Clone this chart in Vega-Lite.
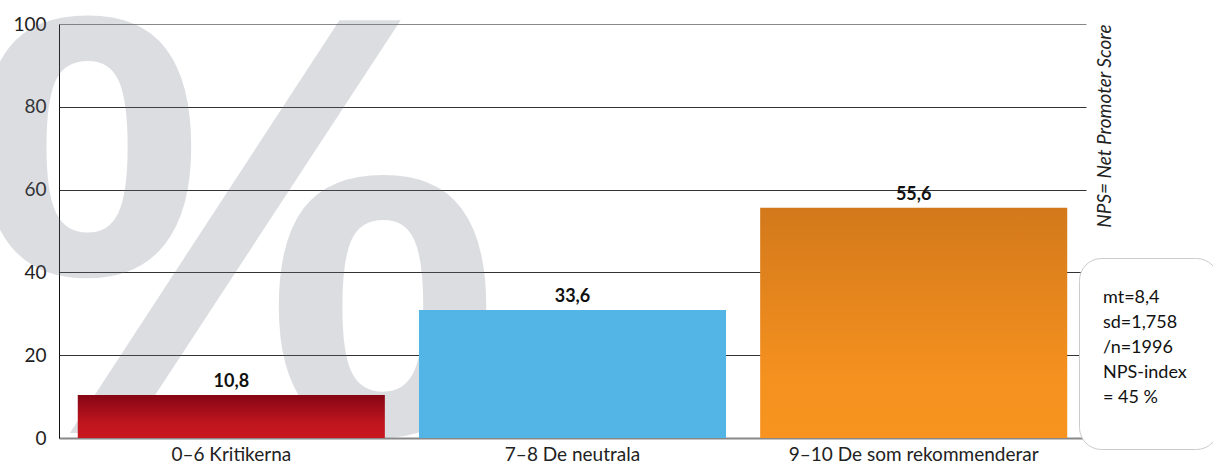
{
  "$schema": "https://vega.github.io/schema/vega-lite/v6.json",
  "width": 1027,
  "height": 414,
  "autosize": {"type": "none"},
  "padding": {"left": 59, "top": 24, "right": 127, "bottom": 30},
  "background": "white",
  "config": {
    "view": {"stroke": null},
    "font": "Lato",
    "axis": {"labelFont": "Lato", "titleFont": "Lato"}
  },
  "datasets": {
    "bars": [
      {"cat": "0–6 Kritikerna", "value": 10.4, "label": "10,8"},
      {"cat": "7–8 De neutrala", "value": 30.9, "label": "33,6"},
      {"cat": "9–10 De som rekommenderar", "value": 55.6, "label": "55,6"}
    ],
    "stats": [
      {"stat": "mt=8,4"},
      {"stat": "sd=1,758"},
      {"stat": "/n=1996"},
      {"stat": "NPS-index"},
      {"stat": "= 45 %"}
    ],
    "bg": [{"sym": "%"}]
  },
  "resolve": {"scale": {"y": "independent"}},
  "layer": [
    {
      "data": {"name": "bg"},
      "mark": {
        "type": "text",
        "font": "Liberation Sans Narrow, Liberation Sans",
        "fontWeight": "bold",
        "fontSize": 600,
        "align": "center",
        "baseline": "alphabetic",
        "fill": "#6b7080",
        "fillOpacity": 0.24,
        "dx": 4,
        "dy": -5
      },
      "encoding": {
        "text": {"field": "sym"},
        "x": {
          "datum": "0–6 Kritikerna",
          "type": "nominal",
          "scale": {"paddingInner": 0.1, "paddingOuter": 0.055},
          "sort": null,
          "axis": {
            "title": null,
            "ticks": false,
            "labelFontSize": 19,
            "labelColor": "#222",
            "labelPadding": 7,
            "labelAngle": 0,
            "labelLimit": 400,
            "domainColor": "#888",
            "domainWidth": 2,
            "grid": false
          }
        },
        "y": {
          "datum": 0,
          "type": "quantitative",
          "scale": {"domain": [0, 100]},
          "axis": {
            "orient": "right",
            "title": "NPS= Net Promoter Score",
            "labels": false,
            "ticks": false,
            "domain": false,
            "grid": false,
            "titleFontStyle": "italic",
            "titleFontWeight": "normal",
            "titleFontSize": 19,
            "titleColor": "#222",
            "titleAngle": 270,
            "titleAnchor": "end",
            "titlePadding": 28
          }
        }
      }
    },
    {
      "data": {"name": "bars"},
      "layer": [
        {
          "mark": {"type": "bar"},
          "encoding": {
            "x": {"field": "cat", "type": "nominal", "sort": null},
            "y": {
              "field": "value",
              "type": "quantitative",
              "scale": {"domain": [0, 100]},
              "axis": {
                "title": null,
                "values": [0, 20, 40, 60, 80, 100],
                "ticks": false,
                "labelFontSize": 19,
                "labelColor": "#222",
                "labelPadding": 13,
                "domain": true,
                "domainColor": "#111",
                "domainWidth": 1,
                "grid": true,
                "gridColor": {"condition": {"test": "datum.value === 100 || datum.value === 0", "value": "#888"}, "value": "#333"},
                "gridWidth": 1
              }
            },
            "color": {
              "condition": [
                {
                  "test": "datum.cat === '0–6 Kritikerna'",
                  "value": {
                    "gradient": "linear", "x1": 0, "y1": 0, "x2": 0, "y2": 1,
                    "stops": [
                      {"offset": 0, "color": "#850514"},
                      {"offset": 0.65, "color": "#bf161e"},
                      {"offset": 1, "color": "#c8171f"}
                    ]
                  }
                },
                {
                  "test": "datum.cat === '9–10 De som rekommenderar'",
                  "value": {
                    "gradient": "linear", "x1": 0, "y1": 0, "x2": 0, "y2": 1,
                    "stops": [
                      {"offset": 0, "color": "#d3791b"},
                      {"offset": 0.75, "color": "#f5911f"},
                      {"offset": 1, "color": "#f7931e"}
                    ]
                  }
                }
              ],
              "value": "#52b5e6"
            }
          }
        },
        {
          "mark": {"type": "text", "fontWeight": "bold", "fontSize": 18, "baseline": "alphabetic", "dy": -8, "color": "#111"},
          "encoding": {
            "x": {"field": "cat", "type": "nominal", "sort": null},
            "y": {"field": "value", "type": "quantitative"},
            "text": {"field": "label"}
          }
        }
      ]
    },
    {
      "data": {"name": "stats"},
      "mark": {"type": "point", "opacity": 0},
      "encoding": {
        "color": {
          "field": "stat",
          "type": "nominal",
          "scale": {
            "domain": ["mt=8,4", "sd=1,758", "/n=1996", "NPS-index", "= 45 %"],
            "range": ["white", "white", "white", "white", "white"]
          },
          "legend": {
            "orient": "none",
            "legendX": 1020,
            "legendY": 234,
            "title": " ",
            "titleOrient": "bottom",
            "titleFontSize": 12,
            "titlePadding": 0,
            "symbolSize": 0,
            "symbolStrokeWidth": 0,
            "symbolOpacity": 0,
            "labelOffset": -25,
            "labelFont": "Lato",
            "labelFontSize": 18,
            "labelColor": "#111",
            "labelLimit": 300,
            "rowPadding": 7,
            "padding": 31,
            "cornerRadius": 22,
            "fillColor": "white",
            "strokeColor": "#cccccc"
          }
        }
      }
    }
  ]
}
